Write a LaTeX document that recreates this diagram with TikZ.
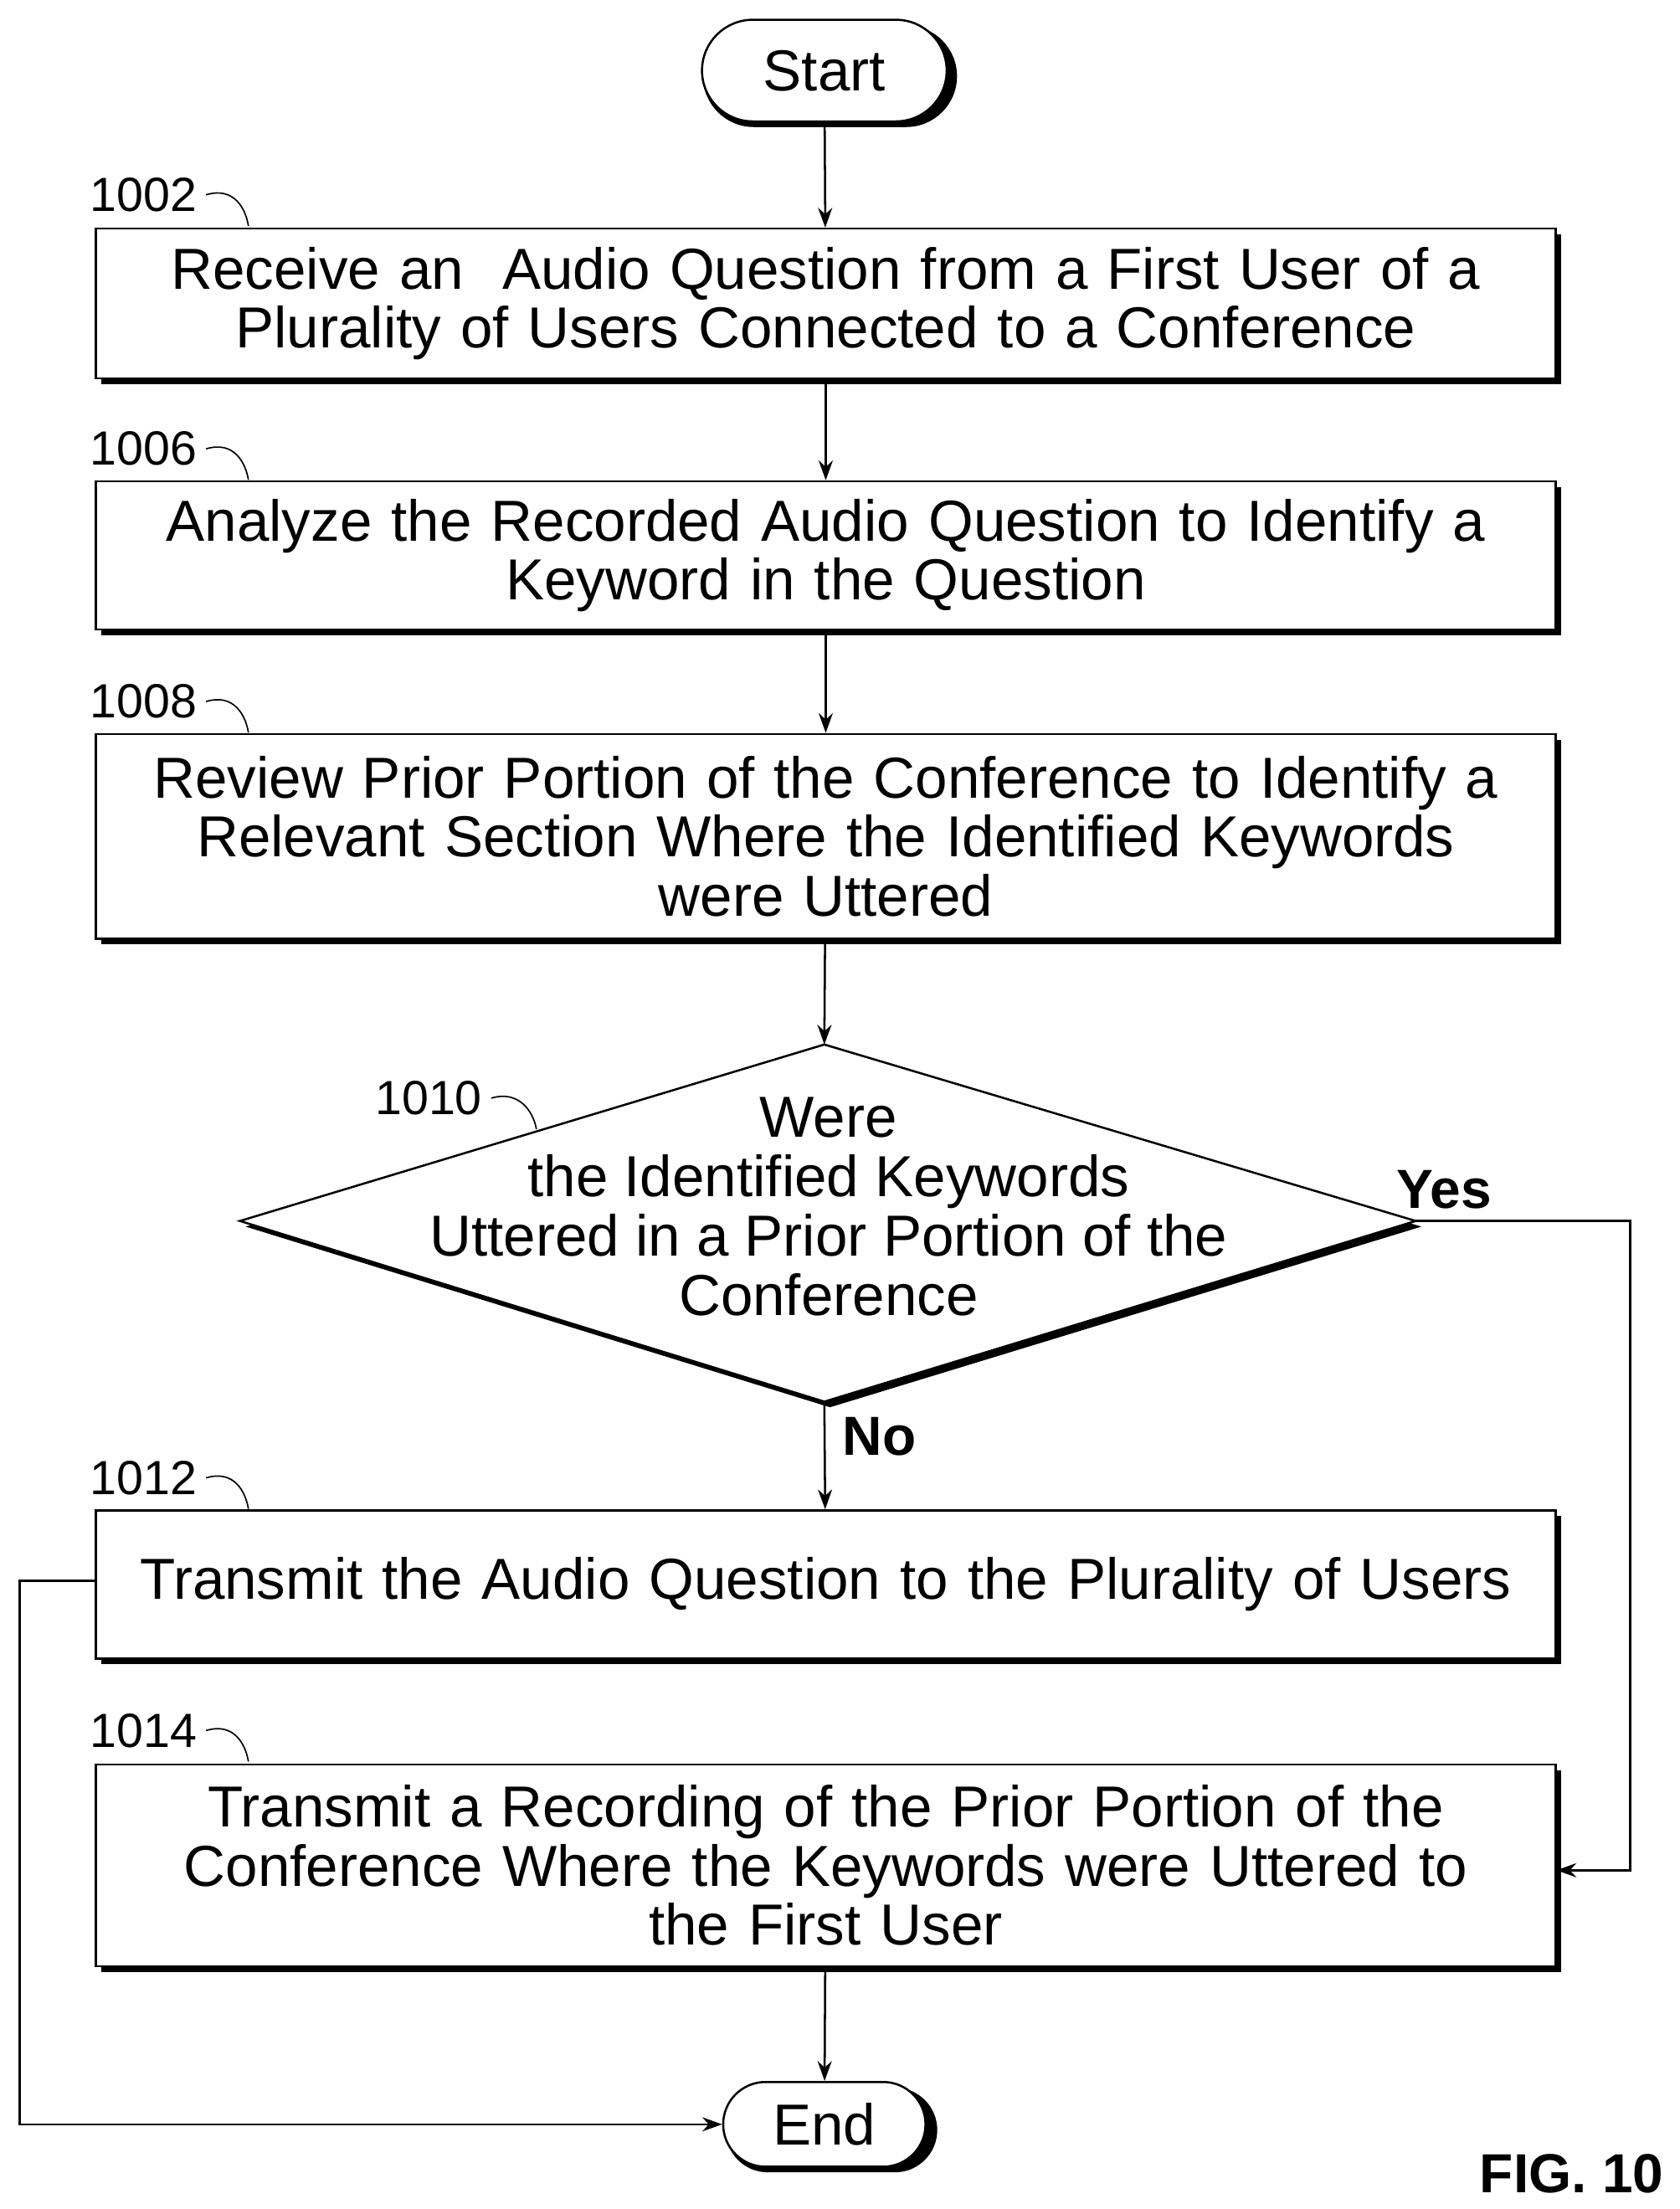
\documentclass[tikz,border=0pt]{standalone}
\usepackage{fontspec}
\setmainfont{Liberation Sans}
\usetikzlibrary{shapes.geometric,shapes.misc,arrows.meta}
\begin{document}
\begin{tikzpicture}[x=1pt,y=-1pt,
 box/.style={draw,line width=1.5pt,fill=white,minimum width=1034pt,text width=1020pt,align=center,font=\fontsize{41}{42}\selectfont,inner sep=0pt},
 term/.style={draw,line width=1.5pt,fill=white,rounded rectangle,font=\fontsize{41}{42}\selectfont},
 lab/.style={font=\fontsize{34}{36}\selectfont},
 arr/.style={line width=1.5pt,-{Stealth[length=14pt,width=10pt]}}]
\useasboundingbox (0,0) rectangle (1190,1565);
% shadows
\fill (72,166) rectangle (1106,272);
\fill (72,345) rectangle (1106,450);
\fill (72,524) rectangle (1106,669);
\fill (72,1074) rectangle (1106,1179);
\fill (72,1254) rectangle (1106,1397);
\fill[rounded corners=36pt] (498,18) rectangle (678,90);
\fill (174,869) -- (588,744) -- (1007,869) -- (588,997) -- cycle;
% boxes
\node[term,minimum width=180pt,minimum height=72pt] (start) at (584,50) {Start};
\node[box,minimum height=106pt] (b1) at (585,215) {Receive an\ \ Audio Question from a First User of a\\Plurality of Users Connected to a Conference};
\node[box,minimum height=105pt] (b2) at (585,393.5) {Analyze the Recorded Audio Question to Identify a\\Keyword in the Question};
\node[box,minimum height=145pt] (b3) at (585,592.5) {Review Prior Portion of the Conference to Identify a\\Relevant Section Where the Identified Keywords\\were Uttered};
\draw[line width=1.5pt,fill=white] (170,865) -- (584,740) -- (1003,865) -- (584,993) -- cycle;
\coordinate (dl) at (170,865); \coordinate (dr) at (1003,865);
\coordinate (dt) at (584,740); \coordinate (db) at (584,993);
\node[align=center,font=\fontsize{41}{42}\selectfont] (dtext) at (587,855) {Were\\the Identified Keywords\\Uttered in a Prior Portion of the\\Conference};
\node[box,minimum height=105pt] (b4) at (585,1122.5) {Transmit the Audio Question to the Plurality of Users};
\node[box,minimum height=143pt] (b5) at (585,1321.5) {Transmit a Recording of the Prior Portion of the\\Conference Where the Keywords were Uttered to\\the First User};
\fill[rounded corners=30pt] (514,1479) rectangle (664,1539);
\node[term,minimum width=150pt,minimum height=60pt] (end) at (584,1505) {End};
% labels
\node[lab,anchor=east] (l1) at (143,138) {1002};
\node[lab,anchor=east] (l2) at (143,318) {1006};
\node[lab,anchor=east] (l3) at (143,497) {1008};
\node[lab,anchor=east] (l4) at (345,778) {1010};
\node[lab,anchor=east] (l5) at (143,1047) {1012};
\node[lab,anchor=east] (l6) at (143,1226) {1014};
\foreach \n in {l1,l2,l3,l5,l6}{
 \draw[line width=1pt] (\n.east) ++(3,0) .. controls +(20,-6) and +(-2,-12) .. ++(30,22);}
\draw[line width=1pt] (l4.east) ++(3,0) .. controls +(20,-6) and +(-2,-12) .. ++(32,22);
\node[font=\bfseries\fontsize{39}{40}\selectfont] (yes) at (1023,843) {Yes};
\node[font=\bfseries\fontsize{39}{40}\selectfont] (no) at (623,1018) {No};
\node[font=\bfseries\fontsize{39}{40}\selectfont,anchor=east] (fig) at (1182,1540) {FIG. 10};
% connectors
\draw[arr] (start) -- (b1);
\draw[arr] (b1) -- (b2);
\draw[arr] (b2) -- (b3);
\draw[arr] (b3) -- (dt);
\draw[arr] (db) -- (b4);
\draw[arr] (b5) -- (end);
\coordinate (c1) at (1155,865); \coordinate (c2) at (1155,1325);
\draw[arr] (dr) -- (c1) -- (c2) -- (b5.east |- c2);
\coordinate (c3) at (14,1120); \coordinate (c4) at (14,1505);
\draw[arr] (b4.west |- c3) -- (c3) -- (c4) -- (end.west);
\end{tikzpicture}
\end{document}
